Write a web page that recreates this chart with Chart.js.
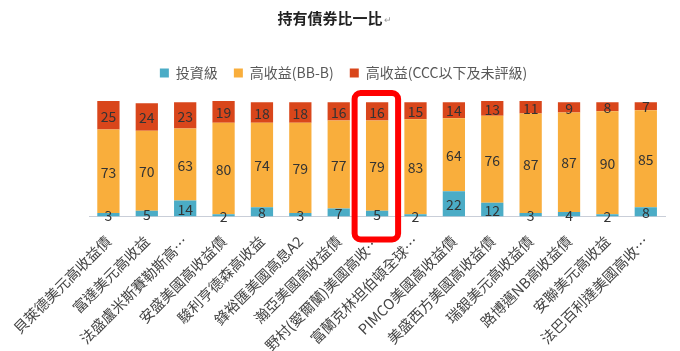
<!DOCTYPE html>
<html><head><meta charset="utf-8">
<script src="https://cdn.jsdelivr.net/npm/chart.js@4.4.1/dist/chart.umd.min.js"></script>
<style>html,body{margin:0;padding:0;background:#fff;}#wrap{width:680px;height:351px;}</style>
</head><body><div id="wrap"><canvas id="c" width="680" height="351"></canvas></div>
<script>
const categories = ["貝萊德美元高收益債","富達美元高收益","法盛盧米斯賽勒斯高…","安盛美國高收益債","駿利亨德森高收益","鋒裕匯美國高息A2","瀚亞美國高收益債","野村(愛爾蘭)美國高收…","富蘭克林坦伯頓全球…","PIMCO美國高收益債","美盛西方美國高收益債","瑞銀美元高收益債","路博邁NB高收益債","安聯美元高收益","法巴百利達美國高收…"];
const investmentGrade = [3,5,14,2,8,3,7,5,2,22,12,3,4,2,8];
const highYieldBB_B = [73,70,63,80,74,79,77,79,83,64,76,87,87,90,85];
const highYieldCCC = [25,24,23,19,18,18,16,16,15,14,13,11,9,8,7];
const seriesNames = ["投資級","高收益(BB-B)","高收益(CCC以下及未評級)"];
const titleText = "持有債券比一比";
const highlightIndex = 7;

const FONT = "'Noto Sans CJK TC','Noto Sans',sans-serif";

const titlePlugin = {
  id:'customTitle',
  afterDraw(chart){
    const ctx = chart.ctx;
    ctx.save();
    ctx.font = "bold 15px " + FONT;
    ctx.fillStyle = "#222";
    ctx.textBaseline = "middle";
    const w = ctx.measureText(titleText).width;
    const x0 = 330 - w/2;
    ctx.fillText(titleText, x0, 18);
    ctx.font = "9px " + FONT;
    ctx.fillStyle = "#999";
    ctx.fillText("↵", x0 + w + 1, 20);
    ctx.restore();
  }
};

const legendTweak = {
  id:'legendTweak',
  beforeUpdate(chart){
    const lg = chart.legend;
    if (lg && !lg._patched){
      lg._patched = true;
      const of = lg.fit, od = lg.draw;
      lg.fit = function(){ of.call(this); this.height += 11; };
      lg.draw = function(){ const c=this.ctx; c.save(); c.translate(9,0); od.call(this); c.restore(); };
    }
  }
};

const labelPlugin = {
  id:'segLabels',
  afterDatasetsDraw(chart){
    const ctx = chart.ctx;
    ctx.save();
    ctx.font = "14px " + FONT;
    ctx.fillStyle = "#333";
    ctx.textAlign = "center";
    ctx.textBaseline = "middle";
    chart.data.datasets.forEach((ds, di) => {
      const meta = chart.getDatasetMeta(di);
      meta.data.forEach((bar, i) => {
        const props = bar.getProps(['x','y','base'], true);
        const cy = (props.y + props.base) / 2;
        ctx.fillText(String(ds.data[i]), props.x, cy + 1);
      });
    });
    ctx.restore();
  }
};

const boxPlugin = {
  id:'highlightBox',
  afterDraw(chart){
    const xs = chart.scales.x;
    const cx = xs.getPixelForValue(highlightIndex);
    const ctx = chart.ctx;
    const l = cx - 22.5, r = cx + 21;
    const t = chart.chartArea.top - 8, b = chart.chartArea.bottom + 23;
    ctx.save();
    ctx.strokeStyle = "#ff0000";
    ctx.lineWidth = 6;
    ctx.beginPath();
    ctx.roundRect(l, t, r - l, b - t, 6);
    ctx.stroke();
    ctx.restore();
  }
};

new Chart(document.getElementById('c'), {
  type:'bar',
  data:{
    labels: categories,
    datasets:[
      {label:seriesNames[0], data:investmentGrade, backgroundColor:'#4BACC6'},
      {label:seriesNames[1], data:highYieldBB_B, backgroundColor:'#F9AE3C'},
      {label:seriesNames[2], data:highYieldCCC, backgroundColor:'#D9461B'}
    ]
  },
  options:{
    responsive:false,
    animation:false,
    devicePixelRatio:1,
    layout:{padding:{top:50,left:4,right:15,bottom:0}},
    datasets:{bar:{categoryPercentage:1, barPercentage:0.58}},
    plugins:{
      legend:{
        position:'top',
        labels:{boxWidth:9, boxHeight:9, color:'#595959', font:{size:14, family:FONT}, padding:16}
      },
      title:{display:false},
      tooltip:{enabled:false}
    },
    scales:{
      x:{
        stacked:true,
        grid:{display:false, drawTicks:false},
        border:{display:true, color:'#C9CED8', width:1},
        ticks:{maxRotation:45, minRotation:45, autoSkip:false, color:'#444', font:{size:14.5, family:FONT}, padding:16},
        afterFit(scale){ scale.height -= 16; }
      },
      y:{
        stacked:true, min:0, max:101, display:false
      }
    }
  },
  plugins:[legendTweak, titlePlugin, labelPlugin, boxPlugin]
});
</script>
</body></html>
